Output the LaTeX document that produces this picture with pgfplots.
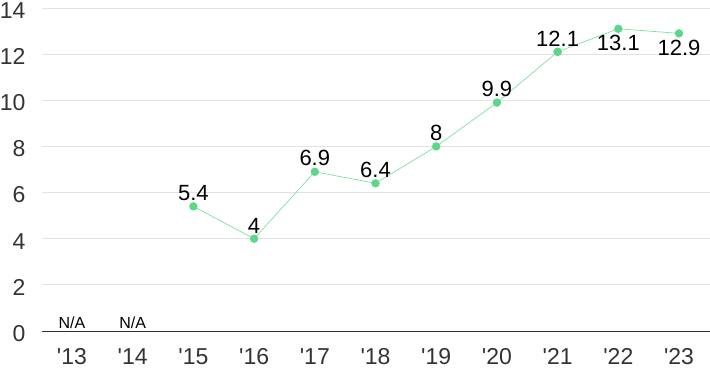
\documentclass[border=0pt]{standalone}
\usepackage{pgfplots}
\pgfplotsset{compat=1.18}
\usepackage{fontspec}
\setmainfont{Liberation Sans}
\definecolor{gridc}{HTML}{E2E2E2}
\definecolor{linec}{HTML}{7EE0A0}
\definecolor{markc}{HTML}{5DD68A}
\definecolor{tickc}{HTML}{333333}
\begin{document}
\begin{tikzpicture}
\begin{axis}[
  scale only axis,
  width=668pt, height=323pt,
  xmin=-0.494, xmax=10.51,
  ymin=0, ymax=14,
  ytick={0,2,...,14},
  xtick={0,...,10},
  xticklabels={\textquotesingle13,\textquotesingle14,\textquotesingle15,\textquotesingle16,\textquotesingle17,\textquotesingle18,\textquotesingle19,\textquotesingle20,\textquotesingle21,\textquotesingle22,\textquotesingle23},
  axis line style={draw=none},
  ymajorgrids, grid style={gridc, line width=0.8pt},
  major tick length=0pt,
  tick label style={font=\fontsize{23}{26}\selectfont, text=tickc},
  /pgf/number format/assume math mode=true,
  yticklabel style={anchor=east, xshift=-13pt, yshift=-2.5pt},
  xticklabel style={anchor=north, yshift=-14pt},
  clip=false,
]
\draw[black!80, line width=0.9pt] (axis cs:-0.494,0) -- (axis cs:10.51,0);
\addplot[linec, line width=0.7pt, mark=*, mark size=3.8pt,
  mark options={fill=markc, draw=markc},
  nodes near coords,
  every node near coord/.append style={font=\fontsize{22}{24}\selectfont, text=black, anchor=south, yshift=2pt},
  point meta=explicit symbolic]
table[meta=lab] {
x y lab
2 5.4 5.4
3 4 4
4 6.9 6.9
5 6.4 6.4
6 8 8
7 9.9 9.9
8 12.1 12.1
};
\addplot[linec, line width=0.7pt, mark=*, mark size=3.8pt,
  mark options={fill=markc, draw=markc}, forget plot]
table {
x y
8 12.1
9 13.1
10 12.9
};
\addplot[draw=none, nodes near coords,
  every node near coord/.append style={font=\fontsize{22}{24}\selectfont, text=black, anchor=north, yshift=-3pt},
  point meta=explicit symbolic]
table[meta=lab] {
x y lab
9 13.1 13.1
10 12.9 12.9
};
\addplot[draw=none, nodes near coords,
  every node near coord/.append style={font=\fontsize{16}{18}\selectfont, text=black, anchor=south, yshift=-1pt},
  point meta=explicit symbolic]
table[meta=lab] {
x y lab
0 0 N/A
1 0 N/A
};
\end{axis}
\pgfresetboundingbox
\path (-42pt,-40pt) rectangle (668pt,331pt);
\end{tikzpicture}
\end{document}
